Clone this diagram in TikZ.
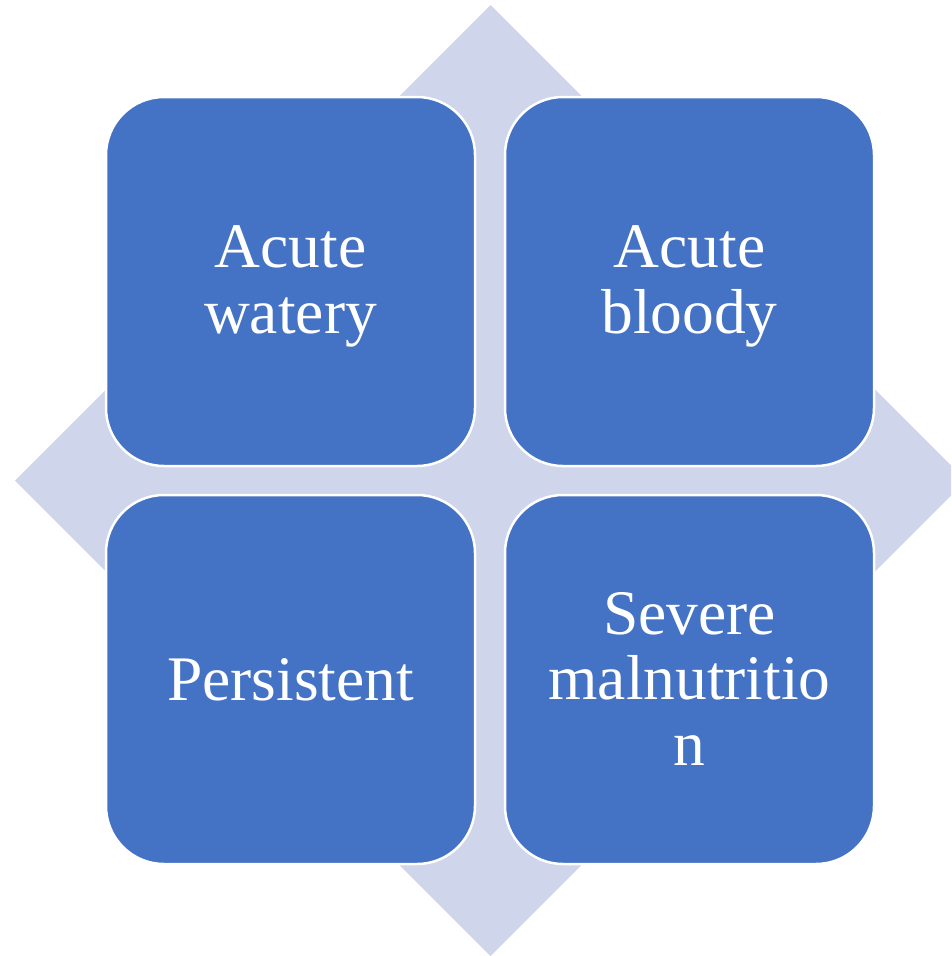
\documentclass[tikz,border=0pt]{standalone}
\usepackage{fontspec}
\setmainfont{Liberation Serif}
\definecolor{boxblue}{HTML}{4472C4}
\definecolor{diamondfill}{HTML}{CFD5EA}
\begin{document}
\begin{tikzpicture}[x=1pt,y=1pt,
  quad/.style={draw=white, line width=2.5pt, fill=boxblue, rounded corners=58pt,
    minimum width=369pt, minimum height=369pt, inner sep=0pt, outer sep=0pt},
  lbl/.style={text=white, align=center, anchor=base,
    font=\fontsize{63.5}{65.5}\selectfont, inner sep=0pt}]
\useasboundingbox (0,0) rectangle (951,-956);
\clip (0,0) rectangle (951,-956);
\fill[diamondfill] (490.5,-5) -- (966,-480.5) -- (490.5,-956) -- (15,-480.5) -- cycle;
\node[quad] (tl) at (290.5,-281.5) {};
\node[quad] (tr) at (689.5,-281.5) {};
\node[quad] (bl) at (290.5,-679.5) {};
\node[quad] (br) at (689.5,-679.5) {};
\node[lbl] (ltl) at (290.5,-333) {Acute\\watery};
\node[lbl] (ltr) at (689.5,-333) {Acute\\bloody};
\node[lbl] (lbl) at (290.5,-700) {Persistent};
\node[lbl] (lbr) at (689.5,-765) {Severe\\malnutritio\\n};
\end{tikzpicture}
\end{document}
